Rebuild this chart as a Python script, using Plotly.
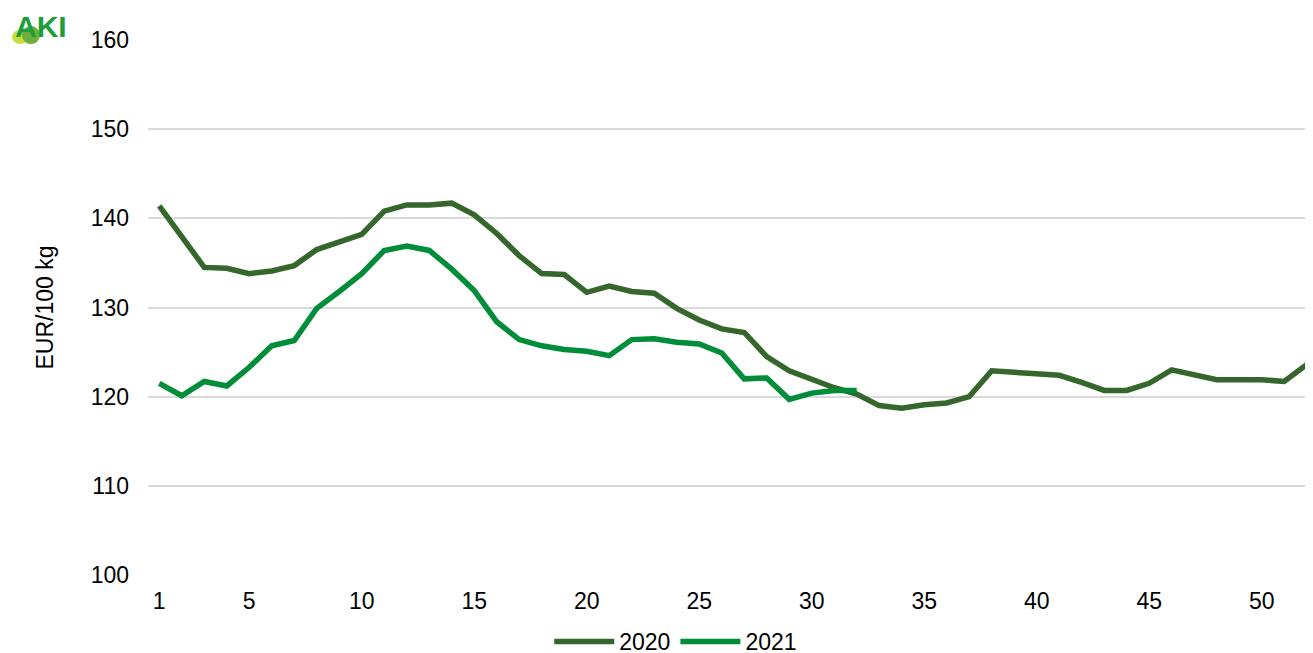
import plotly.graph_objects as go

weeks_2020 = list(range(1, 53))
values_2020 = [141.4, 137.9, 134.5, 134.4, 133.8, 134.1, 134.7, 136.5, 137.4, 138.2,
               140.8, 141.5, 141.5, 141.7, 140.4, 138.3, 135.8, 133.8, 133.7, 131.7,
               132.4, 131.8, 131.6, 129.9, 128.6, 127.6, 127.2, 124.5, 122.9, 121.9,
               121.0, 120.3, 119.0, 118.7, 119.1, 119.3, 120.0, 122.9, 122.7, 122.6,
               122.4, 121.6, 120.7, 120.7, 121.5, 123.0, 122.5, 121.9, 121.9, 121.9,
               121.7, 123.6]
weeks_2021 = list(range(1, 33))
values_2021 = [121.5, 120.1, 121.7, 121.2, 123.3, 125.7, 126.3, 129.9, 131.8, 133.8,
               136.4, 136.9, 136.4, 134.3, 131.9, 128.4, 126.4, 125.7, 125.3, 125.1,
               124.6, 126.4, 126.5, 126.1, 125.9, 124.9, 122.0, 122.1, 119.7, 120.4,
               120.7, 120.7]
x_tick_vals = [1, 5, 10, 15, 20, 25, 30, 35, 40, 45, 50]
y_tick_vals = [100, 110, 120, 130, 140, 150, 160]

fig = go.Figure()
fig.add_trace(go.Scatter(x=weeks_2020, y=values_2020, mode="lines", name="2020",
                         line=dict(color="#35662B", width=5.5)))
fig.add_trace(go.Scatter(x=weeks_2021, y=values_2021, mode="lines", name="2021",
                         line=dict(color="#008D39", width=5.5)))

font_family = "Liberation Sans, Arial, sans-serif"
fig.update_layout(
    width=1313, height=653,
    margin=dict(l=140, r=8, t=32, b=86, autoexpand=False),
    plot_bgcolor="white", paper_bgcolor="white",
    font=dict(family=font_family, size=23, color="#000000"),
    xaxis=dict(range=[0.5, 52.28], tickvals=x_tick_vals, showgrid=False,
               zeroline=False, showline=False, ticks="", ticklabelstandoff=10,
               tickfont=dict(size=23)),
    yaxis=dict(range=[100, 160], tickvals=y_tick_vals, showgrid=True,
               gridcolor="#d9d9d9", gridwidth=1.5, zeroline=False, showline=False,
               ticks="", ticklabelstandoff=18, tickfont=dict(size=23),
               title=dict(text="EUR/100 kg", font=dict(size=23), standoff=30)),
    showlegend=True,
    legend=dict(orientation="h", x=0.453, xanchor="center", y=-0.084, yanchor="top",
                font=dict(size=23), tracegroupgap=0, itemwidth=60),
)

# AKI logo approximation
fig.add_shape(type="circle", xref="paper", yref="paper",
              x0=-0.1167, x1=-0.1030, y0=0.9925, y1=1.0186,
              fillcolor="#C8DC3C", line_width=0, layer="above")
fig.add_shape(type="circle", xref="paper", yref="paper",
              x0=-0.1082, x1=-0.0927, y0=0.9925, y1=1.0260,
              fillcolor="#6FAE3A", line_width=0, layer="above")
fig.add_annotation(text="<b>AKI</b>", xref="paper", yref="paper",
                   x=-0.0918, y=1.026, xanchor="center", yanchor="middle",
                   showarrow=False,
                   font=dict(size=30, color="#1E9E3A",
                             family="Liberation Sans Narrow, Liberation Sans"))

fig.write_html("out.html")
